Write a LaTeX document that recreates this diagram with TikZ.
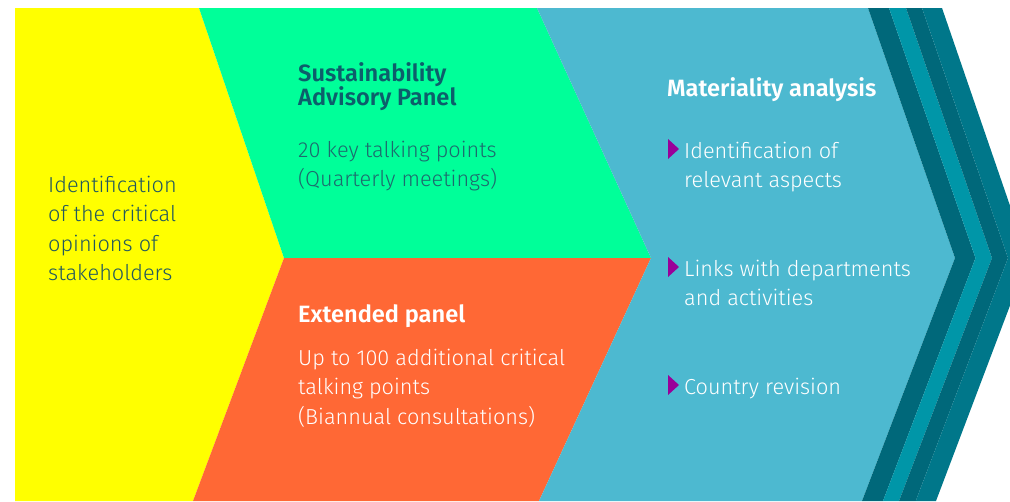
\documentclass[tikz,border=0pt]{standalone}
\usepackage{fontspec}
\setmainfont{Fira Sans Light}[BoldFont={Fira Sans SemiBold}]

\definecolor{ChevYellow}{HTML}{FFFF00}
\definecolor{ChevGreen}{HTML}{00FF99}
\definecolor{ChevOrange}{HTML}{FF6835}
\definecolor{ChevBlue}{HTML}{4DB9D0}
\definecolor{BandDark}{HTML}{00687A}
\definecolor{BandTeal}{HTML}{0096A8}
\definecolor{BandMid}{HTML}{00778A}
\definecolor{InkYellow}{HTML}{22585F}
\definecolor{InkGreen}{HTML}{0D5E6B}
\definecolor{InkGreenBody}{HTML}{1E6A6E}
\definecolor{MatPurple}{HTML}{990099}

\tikzset{
  txt/.style={anchor=north west, inner sep=0pt, align=left,
    font=\fontsize{21.7}{29.3}\selectfont},
  head/.style={txt, font=\fontsize{23.6}{24.5}\selectfont\bfseries},
  bullet/.style={fill=MatPurple}
}

\def\Top{8}
\def\Mid{258}
\def\Bot{501}

\begin{document}
\begin{tikzpicture}[x=1pt,y=-1pt]
  \useasboundingbox (0,0) rectangle (1010,501);
  \clip (0,0) rectangle (1010,501);
  % --- Chevrons ---
  \fill[ChevYellow] (15,\Top) -- (199,\Top) -- (284,\Mid) -- (193,\Bot) -- (15,\Bot) -- cycle;
  \fill[ChevGreen] (199,\Top) -- (537,\Top) -- (651,\Mid) -- (284,\Mid) -- cycle;
  \fill[ChevOrange] (284,\Mid) -- (651,\Mid) -- (539,\Bot) -- (193,\Bot) -- cycle;
  \fill[ChevBlue] (537,\Top) -- (868,\Top) -- (955,\Mid) -- (862,\Bot) -- (539,\Bot) -- (651,\Mid) -- cycle;
  % --- Bandas ---
  \foreach \a/\b/\c/\d/\e/\f/\col in {%
    868/955/862/889/975.5/883/BandDark,
    889/975.5/883/906/992/899/BandTeal,
    906/992/899/922/1008/915.7/BandDark,
    922/1008/915.7/942/1028/936/BandMid%
  }{
   \fill[\col] (\a,\Top) -- (\d,\Top) -- (\e,\Mid) -- (\f,\Bot) -- (\c,\Bot) -- (\b,\Mid) -- cycle;
  }
  % --- Textos ---
  \node[txt, text=InkYellow] (stake) at (48,176) {Identification\\of the critical\\opinions of\\stakeholders};
  \node[head, text=InkGreen] (sap) at (298,62) {Sustainability\\Advisory Panel};
  \node[txt, text=InkGreenBody] (sapbody) at (298,141) {20 key talking points\\(Quarterly meetings)};
  \node[head, text=white] (ext) at (298,304) {Extended panel};
  \node[txt, text=white] (extbody) at (298,349) {Up to 100 additional critical\\talking points\\(Biannual consultations)};
  \node[head, text=white] (mat) at (667,77) {Materiality analysis};
  \foreach \n/\y/\t in {%
    b1/142/{Identification of\\relevant aspects},
    b2/260/{Links with departments\\and activities},
    b3/378/{Country revision}%
  }{
    \node[txt, text=white] (\n) at (684,\y) {\t};
    \fill[bullet] ([shift={(-16,-3)}]\n.north west) -- ++(11,10) -- ++(-11,10) -- cycle;
  }
\end{tikzpicture}
\end{document}
